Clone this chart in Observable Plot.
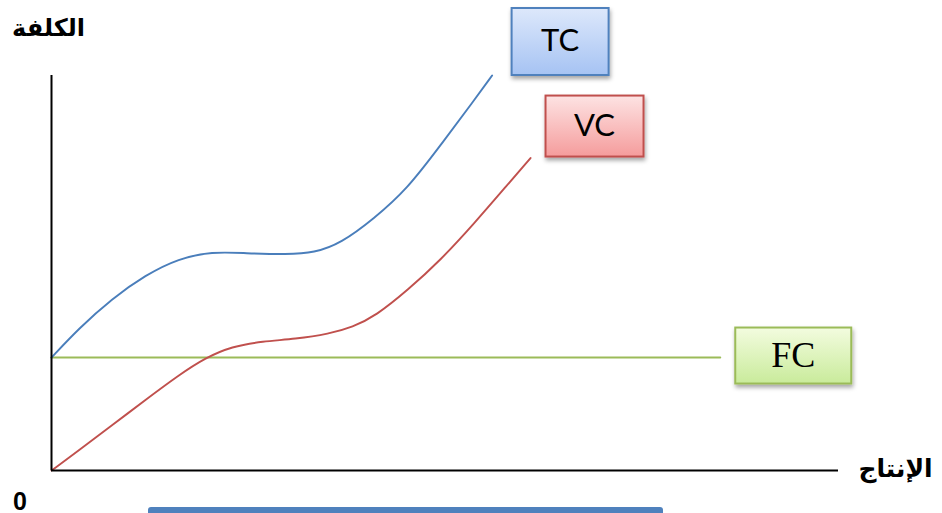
<!DOCTYPE html>
<html>
<head>
<meta charset="utf-8">
<script src="https://cdn.jsdelivr.net/npm/d3@7"></script>
<script src="https://cdn.jsdelivr.net/npm/@observablehq/plot@0.6"></script>
<style>
  html, body { margin: 0; padding: 0; background: #fff; overflow: hidden; }
  #wrap { position: relative; width: 942px; height: 513px; }
  #bar { position: absolute; left: 148px; top: 507px; width: 515px; height: 10px;
         background: #4f81bd; border-radius: 3px 3px 0 0; }
</style>
</head>
<body>
<div id="wrap"><div id="bar"></div></div>
<script>
// Total cost (TC)
const tcQuantity = [0, 3.5, 7.7, 12.0, 16.2, 20.5, 24.7, 30.1, 33.5, 36.9, 41.1, 45.4, 49.6, 53.9, 56.2];
const tcCost     = [28.6, 36.0, 43.5, 49.5, 53.7, 55.4, 55.0, 54.7, 55.1, 57.5, 63.7, 71.3, 82.3, 93.7, 100.0];

// Variable cost (VC)
const vcQuantity = [0, 3.5, 7.7, 12.0, 16.2, 19.6, 23.0, 26.9, 31.1, 35.4, 38.4, 41.4, 45.4, 49.6, 53.9, 58.1, 61.1];
const vcCost     = [0, 5.1, 11.4, 17.9, 24.1, 28.5, 31.4, 32.7, 33.3, 34.6, 36.3, 39.2, 45.6, 53.2, 62.5, 72.2, 79.1];

// Fixed cost (FC)
const fcQuantity = [0, 85.3];
const fcCost     = [28.6, 28.6];

const axisLabelY = "الكلفة";
const axisLabelX = "الإنتاج";
const originLabel = "0";

const toRows = (name, qs, cs) => qs.map((q, i) => ({series: name, q, cost: cs[i]}));
const tc = toRows("TC", tcQuantity, tcCost);
const vc = toRows("VC", vcQuantity, vcCost);
const fc = toRows("FC", fcQuantity, fcCost);

// A text label sitting in a gradient-filled box with a soft drop shadow,
// placed relative to the last point of its curve.
function boxedLabel(name, rows, o) {
  const end = rows[rows.length - 1];
  return Plot.text([end], {
    x: "q", y: "cost", text: () => name,
    dx: o.dx, dy: o.dy,
    fontSize: o.size, fontFamily: o.font, fill: "#000",
    textAnchor: "middle", lineAnchor: "middle",
    render(index, scales, values, dimensions, context, next) {
      const g = next(index, scales, values, dimensions, context);
      const gid = "grad-" + name, sid = "shadow-" + name;
      const defs = d3.create("svg:defs");
      const grad = defs.append("linearGradient").attr("id", gid)
        .attr("x1", 0).attr("y1", 0).attr("x2", 0).attr("y2", 1);
      grad.append("stop").attr("offset", 0).attr("stop-color", o.top);
      grad.append("stop").attr("offset", 1).attr("stop-color", o.bottom);
      const f = defs.append("filter").attr("id", sid)
        .attr("x", "-20%").attr("y", "-20%").attr("width", "150%").attr("height", "170%");
      f.append("feDropShadow").attr("dx", 1).attr("dy", 3).attr("stdDeviation", 2)
        .attr("flood-color", "#000").attr("flood-opacity", 0.35);
      const boxes = d3.create("svg:g");
      for (const i of index) {
        boxes.append("rect")
          .attr("x", values.x[i] - o.w / 2).attr("y", values.y[i] - o.h / 2)
          .attr("width", o.w).attr("height", o.h)
          .attr("fill", `url(#${gid})`).attr("stroke", o.stroke).attr("stroke-width", 2)
          .attr("filter", `url(#${sid})`);
      }
      g.insertBefore(boxes.node(), g.firstChild);
      g.insertBefore(defs.node(), g.firstChild);
      return g;
    }
  });
}

const chart = Plot.plot({
  width: 942,
  height: 513,
  marginLeft: 51,
  marginRight: 107,
  marginTop: 75,
  marginBottom: 43,
  x: {domain: [0, 100], axis: null},
  y: {domain: [0, 100], axis: null},
  style: {background: "transparent"},
  marks: [
    Plot.line(fc, {x: "q", y: "cost", stroke: "#9bbb59", strokeWidth: 2}),
    Plot.line(vc, {x: "q", y: "cost", stroke: "#c0504d", strokeWidth: 1.9, curve: "basis"}),
    Plot.line(tc, {x: "q", y: "cost", stroke: "#4a7ebb", strokeWidth: 1.9, curve: "basis"}),
    Plot.ruleX([0], {stroke: "#000", strokeWidth: 2}),
    Plot.ruleY([0], {stroke: "#000", strokeWidth: 2, insetRight: -3}),
    boxedLabel("TC", tc, {dx: 68, dy: -34, w: 97, h: 67, size: 31, font: "Lato",
      top: "#dde8fb", bottom: "#a6c3f3", stroke: "#4f81bd"}),
    boxedLabel("VC", vc, {dx: 64, dy: -32, w: 98, h: 61, size: 31, font: "Lato",
      top: "#fde3e3", bottom: "#f59c9c", stroke: "#c0504d"}),
    boxedLabel("FC", fc, {dx: 73, dy: -2, w: 116, h: 56, size: 36, font: "Liberation Serif",
      top: "#f3fcdf", bottom: "#c9eb9b", stroke: "#9bbb59"}),
    Plot.text([axisLabelY], {text: d => d, frameAnchor: "top-left", dx: -3, dy: -47,
      fontSize: 24, fontWeight: "bold", fontFamily: "DejaVu Sans", fill: "#000",
      textAnchor: "middle", lineAnchor: "middle"}),
    Plot.text([axisLabelX], {text: d => d, frameAnchor: "bottom-right", dx: 60, dy: -2,
      fontSize: 25, fontWeight: "bold", fontFamily: "DejaVu Sans", fill: "#000",
      textAnchor: "middle", lineAnchor: "middle"}),
    Plot.text([originLabel], {text: d => d, frameAnchor: "bottom-left", dx: -31.5, dy: 31,
      fontSize: 25, fontWeight: "bold", fontFamily: "Liberation Sans", fill: "#000",
      textAnchor: "middle", lineAnchor: "middle"})
  ]
});

document.getElementById("wrap").prepend(chart);
</script>
</body>
</html>
